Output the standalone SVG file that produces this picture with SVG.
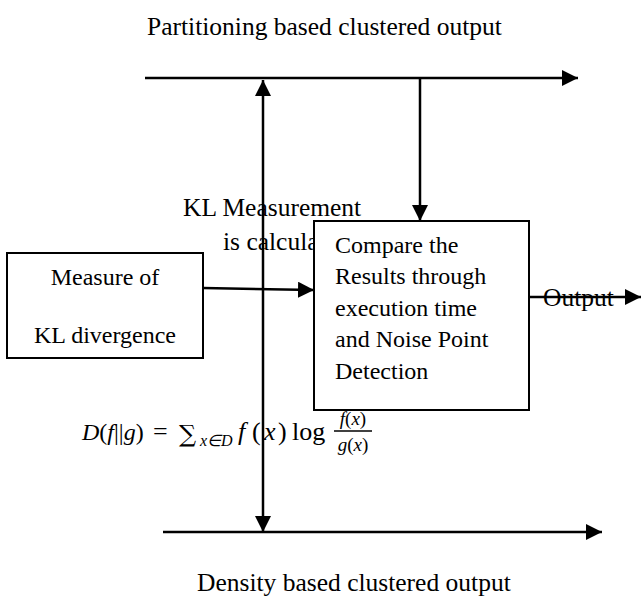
<svg xmlns="http://www.w3.org/2000/svg" width="643" height="608" viewBox="0 0 643 608">
<style>
  .t { font-family: "Liberation Serif", "Times New Roman", serif; font-size: 24px; fill: #000; }
  .lbl { font-family: "Liberation Serif", "Times New Roman", serif; font-size: 25.5px; fill: #000; }
  .m { font-family: "Liberation Serif", "Times New Roman", serif; font-size: 24px; fill: #000; }
  .mi { font-style: italic; }
  .ln { stroke: #000; stroke-width: 2.5; fill: none; }
  .box { stroke: #000; stroke-width: 2; fill: #fff; }
</style>
<defs>
  <marker id="ah" markerUnits="userSpaceOnUse" markerWidth="16" markerHeight="16" refX="16" refY="8" orient="auto">
    <path d="M0,0 L16,8 L0,16 z" fill="#000"/>
  </marker>
</defs>

<text class="lbl" x="147" y="35">Partitioning based clustered output</text>
<text class="lbl" x="197" y="591">Density based clustered output</text>

<g id="kl-label">
  <text class="lbl" x="183" y="216">KL Measurement</text>
  <text class="lbl" x="223" y="250">is calculated</text>
</g>

<g id="formula">
  <text class="m" y="440"><tspan class="mi" x="82">D</tspan><tspan>(</tspan><tspan class="mi">f</tspan><tspan>||</tspan><tspan class="mi">g</tspan><tspan>)</tspan></text>
  <text class="m" x="153" y="440" style="font-size:26px">=</text>
  <text class="m" x="179" y="442" style="font-family:'DejaVu Serif',serif;font-size:24px">∑</text>
  <text class="m mi" x="200" y="446" style="font-size:16px">x∈D</text>
  <text class="m" y="440" style="font-size:26px"><tspan class="mi" x="238">f</tspan><tspan x="252">(</tspan><tspan class="mi" x="264">x</tspan><tspan x="278">)</tspan><tspan x="292">log</tspan></text>
  <text class="m" x="353" y="425" text-anchor="middle" style="font-size:19px"><tspan class="mi">f</tspan>(<tspan class="mi">x</tspan>)</text>
  <line x1="334" y1="431" x2="372" y2="431" stroke="#000" stroke-width="1.5"/>
  <text class="m" x="353" y="451" text-anchor="middle" style="font-size:19px"><tspan class="mi">g</tspan>(<tspan class="mi">x</tspan>)</text>
</g>

<g id="connectors">
  <line class="ln" x1="145" y1="78" x2="578" y2="78" marker-end="url(#ah)"/>
  <line class="ln" x1="163" y1="532" x2="602" y2="532" marker-end="url(#ah)"/>
  <line class="ln" x1="263" y1="300" x2="263" y2="80" marker-end="url(#ah)"/>
  <line class="ln" x1="263" y1="300" x2="263" y2="532" marker-end="url(#ah)"/>
  <line class="ln" x1="420" y1="78" x2="420" y2="221" marker-end="url(#ah)"/>
  <line class="ln" x1="203" y1="288" x2="314" y2="290" marker-end="url(#ah)"/>
  <line class="ln" x1="529" y1="297" x2="641" y2="297" marker-end="url(#ah)"/>
</g>

<g id="measure">
  <rect class="box" x="7" y="253" width="196" height="105"/>
  <text class="t" x="105" y="285" text-anchor="middle">Measure of</text>
  <text class="t" x="105" y="343" text-anchor="middle">KL divergence</text>
</g>

<g id="compare">
  <rect class="box" x="314" y="221" width="215" height="189"/>
  <text class="t" x="335" y="253">Compare the</text>
  <text class="t" x="335" y="284">Results through</text>
  <text class="t" x="335" y="316">execution time</text>
  <text class="t" x="335" y="347">and Noise Point</text>
  <text class="t" x="335" y="379">Detection</text>
</g>

<g id="output">
  <text class="lbl" x="543" y="306">Output</text>
</g>
</svg>
